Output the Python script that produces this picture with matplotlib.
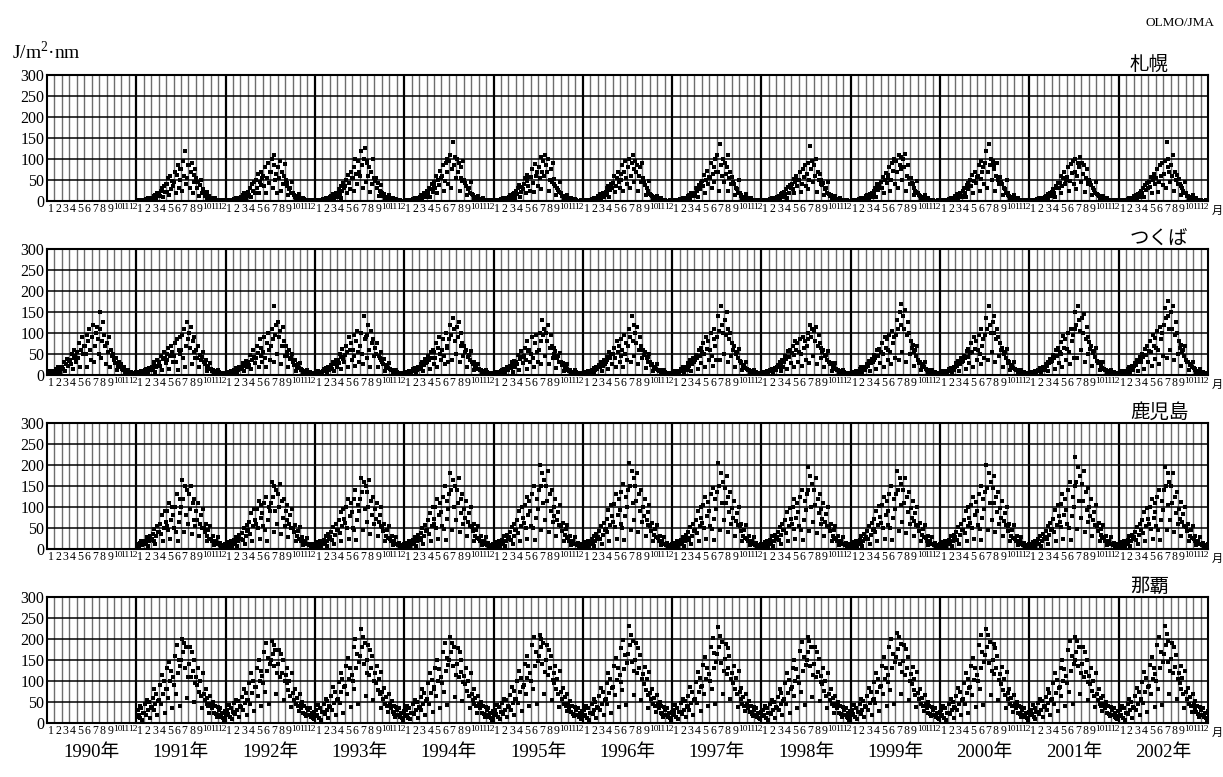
import numpy as np
import matplotlib
matplotlib.use("Agg")
import matplotlib.pyplot as plt

plt.rcParams["font.family"] = ["Liberation Serif", "Noto Sans CJK JP"]
plt.rcParams["mathtext.fontset"] = "custom"
plt.rcParams["mathtext.rm"] = "Liberation Serif"

# daily UV-B (J/m2/nm), 8 readings per month, one string per year,
# months separated by "|"
stations = ["札幌", "つくば", "鹿児島", "那覇"]
first_year = [1991, 1990, 1991, 1991]
months = [str(m) for m in range(1, 13)]
years = list(range(1990, 2003))

sapporo = [
    "1 2 1 3 1 2 2 1 | 3 2 5 4 6 3 4 7 | 8 5 12 10 15 6 18 11 | 18 12 25 30 9 35 22 40 | 40 22 55 15 60 28 48 35 | 45 70 20 62 85 30 50 75 | 75 25 95 60 120 40 55 85 | 85 30 70 90 18 62 45 75 | 55 30 45 12 38 50 20 28 | 20 12 15 6 22 9 11 8 | 6 4 5 2 7 3 3 2 | 2 1 2 1 1 2 1 1",
    "2 1 1 2 1 2 1 2 | 4 3 2 6 5 3 7 4 | 10 6 14 18 8 4 20 12 | 22 15 30 10 40 25 45 18 | 50 30 65 20 45 70 38 55 | 60 35 80 18 55 90 42 70 | 70 100 30 85 110 50 65 20 | 80 55 95 25 70 40 60 88 | 50 35 42 15 28 30 18 45 | 18 14 10 5 12 7 16 6 | 5 4 3 6 4 2 2 3 | 1 2 1 1 2 1 1 1",
    "1 2 1 1 2 2 1 3 | 4 3 5 6 2 4 8 5 | 9 12 7 16 4 13 18 10 | 20 28 14 35 8 24 42 30 | 35 50 18 62 44 28 70 55 | 55 80 25 100 65 40 95 70 | 60 120 85 30 100 125 45 90 | 95 60 80 22 70 40 100 55 | 48 55 30 42 12 25 22 38 | 18 12 16 5 10 8 6 14 | 5 4 3 6 3 2 2 4 | 2 1 1 2 1 1 1 1",
    "1 1 2 1 2 2 1 2 | 3 5 4 6 7 2 5 4 | 10 8 15 4 12 18 14 9 | 25 18 32 10 28 40 22 35 | 45 30 60 18 50 38 72 55 | 60 85 25 48 90 70 100 40 | 95 110 30 75 140 85 105 55 | 100 70 90 25 55 80 48 95 | 50 42 35 15 28 32 20 45 | 16 14 10 5 8 9 5 12 | 5 3 4 2 6 3 2 3 | 1 1 2 1 1 1 2 1",
    "1 2 1 2 1 2 3 1 | 4 3 6 5 2 7 6 4 | 9 14 11 5 17 12 20 8 | 24 16 30 38 10 22 34 28 | 40 55 20 62 48 35 58 25 | 58 75 42 22 88 60 70 35 | 80 55 105 28 70 95 60 110 | 85 68 100 25 50 75 45 90 | 52 40 35 14 30 26 22 45 | 18 13 12 5 9 8 6 15 | 5 4 3 6 3 2 2 4 | 2 1 1 1 1 2 1 1",
    "1 1 2 2 1 1 2 1 | 3 5 4 7 2 5 6 4 | 11 8 16 5 13 19 10 14 | 22 30 18 36 10 26 40 32 | 42 60 22 35 55 70 45 30 | 65 50 85 25 70 95 55 40 | 80 100 30 60 90 110 75 45 | 95 70 85 25 60 80 45 90 | 55 45 38 15 30 24 20 48 | 17 14 11 6 9 7 6 12 | 5 4 4 2 6 3 2 3 | 2 1 1 1 1 2 1 1",
    "1 2 2 1 1 2 1 2 | 4 5 3 7 2 6 8 5 | 12 9 15 5 18 11 16 13 | 20 32 24 10 38 28 44 35 | 48 35 62 20 50 72 40 58 | 55 90 30 65 80 45 100 70 | 110 70 25 135 85 60 100 45 | 90 65 80 25 110 55 70 40 | 58 45 40 15 32 28 20 50 | 20 15 12 6 10 8 6 16 | 6 4 4 2 7 3 2 3 | 2 1 1 1 2 1 1 1",
    "1 1 2 1 2 1 1 2 | 3 4 5 6 2 4 7 5 | 10 7 13 4 16 12 18 9 | 22 16 28 8 34 20 38 30 | 40 28 52 18 45 60 35 50 | 50 70 22 40 75 58 85 35 | 65 90 28 50 130 75 95 45 | 85 60 100 22 70 50 65 40 | 50 38 42 14 28 30 18 45 | 16 12 14 5 9 8 5 11 | 5 3 4 2 6 3 2 3 | 1 1 1 2 1 1 1 1",
    "1 2 1 2 1 2 1 2 | 4 3 6 5 2 7 6 5 | 11 14 9 5 17 13 19 10 | 25 18 32 10 40 26 36 30 | 45 32 58 20 50 66 42 55 | 62 80 25 50 90 72 100 40 | 95 70 30 110 85 105 75 50 | 100 80 112 25 60 85 55 40 | 55 44 40 15 32 25 22 48 | 18 14 12 6 10 7 6 15 | 5 4 3 6 3 2 2 3 | 2 1 1 1 1 2 1 1",
    "1 1 2 2 1 2 1 2 | 3 5 4 6 2 8 6 4 | 12 9 16 5 14 20 12 10 | 24 30 20 10 38 28 44 35 | 50 36 62 20 48 70 42 58 | 60 85 25 52 95 70 80 40 | 90 120 30 70 135 85 100 50 | 95 75 85 25 60 90 50 40 | 58 45 40 15 30 28 20 50 | 18 15 12 6 10 8 6 14 | 5 4 3 6 3 2 2 3 | 2 1 1 1 2 1 1 1",
    "1 2 1 1 2 2 1 2 | 4 4 6 5 2 7 8 5 | 10 13 9 5 16 14 20 11 | 22 28 18 10 36 30 42 32 | 44 60 20 36 55 68 40 50 | 58 80 25 48 88 66 95 40 | 70 100 28 60 90 80 105 45 | 90 65 85 22 55 75 48 40 | 50 42 38 14 30 26 20 46 | 17 14 12 6 9 8 6 13 | 5 4 3 6 3 2 2 3 | 2 1 1 1 1 2 1 1",
    "1 1 2 1 2 2 1 2 | 3 5 4 6 2 5 7 4 | 11 8 14 5 17 12 19 10 | 24 18 30 10 38 26 42 32 | 46 34 58 20 50 64 40 55 | 55 75 22 45 85 60 90 38 | 65 95 30 140 80 100 70 45 | 85 60 110 25 70 50 62 40 | 52 40 36 14 30 24 20 46 | 18 13 11 6 9 7 6 14 | 5 4 3 6 3 2 2 3 | 2 1 1 1 1 2 1 1",
]

tsukuba = [
    "5 8 4 9 6 10 7 5 | 10 14 8 18 12 20 6 15 | 20 15 30 10 25 38 22 33 | 35 25 50 15 40 60 45 30 | 55 40 75 20 60 90 50 70 | 70 50 95 20 80 110 60 35 | 90 120 30 70 100 115 85 50 | 110 150 40 80 125 95 70 25 | 75 55 90 20 60 45 50 35 | 35 28 40 12 22 30 18 25 | 15 12 18 6 10 9 8 13 | 6 5 7 3 4 5 4 6",
    "5 7 4 8 6 9 5 7 | 9 12 15 6 8 16 11 13 | 18 14 25 30 8 20 35 22 | 30 22 45 12 38 55 40 28 | 50 35 65 15 45 70 55 30 | 45 75 30 85 12 60 90 50 | 60 95 40 110 20 70 125 85 | 100 65 115 25 80 55 90 40 | 60 40 70 18 48 35 42 55 | 30 25 35 10 18 22 15 28 | 14 10 12 5 8 9 7 11 | 6 5 5 3 4 4 3 5",
    "4 7 5 8 6 9 5 6 | 10 13 9 16 6 12 18 14 | 20 15 28 10 22 34 26 18 | 32 24 48 15 36 60 42 28 | 40 70 52 18 85 45 65 30 | 55 90 40 20 75 100 60 35 | 70 110 85 30 165 95 120 50 | 125 90 105 25 70 115 80 45 | 70 55 45 18 60 38 40 50 | 30 24 36 10 20 25 16 28 | 14 11 13 5 9 8 7 12 | 6 5 6 3 4 4 3 5",
    "5 6 4 9 7 8 6 5 | 9 14 11 17 6 13 19 12 | 18 24 15 30 9 26 36 20 | 35 28 50 14 42 62 38 30 | 48 70 55 18 90 60 75 35 | 60 95 45 22 80 105 55 30 | 70 100 50 25 140 85 90 40 | 95 120 60 20 105 75 85 45 | 65 50 75 18 45 40 36 55 | 32 25 38 10 20 24 16 28 | 14 12 13 5 9 8 7 11 | 6 5 5 3 4 4 3 5",
    "5 7 5 8 6 9 6 7 | 10 14 12 17 6 13 20 15 | 18 26 20 32 10 24 38 28 | 30 45 36 15 55 40 60 25 | 55 40 75 20 65 90 50 35 | 60 85 45 25 100 70 65 30 | 85 120 95 35 135 110 80 50 | 115 90 125 30 70 100 75 45 | 70 55 60 20 42 48 35 58 | 32 26 30 12 20 22 15 27 | 14 11 12 5 9 8 7 12 | 6 5 5 3 4 4 3 5",
    "4 6 5 7 6 8 5 6 | 9 12 10 15 6 14 18 11 | 18 22 16 30 8 25 34 20 | 32 25 48 12 38 56 44 28 | 45 65 35 15 80 58 60 30 | 50 90 40 20 75 95 55 30 | 60 100 80 25 130 95 110 45 | 100 80 120 25 65 95 70 40 | 65 50 58 16 40 45 32 52 | 30 24 28 10 18 20 14 26 | 13 10 11 5 8 8 6 12 | 6 5 5 3 4 4 3 5",
    "5 7 4 8 6 9 5 6 | 9 13 11 16 6 12 18 14 | 18 24 20 30 9 22 35 26 | 30 42 36 14 55 40 50 25 | 50 65 40 18 80 55 70 30 | 45 85 60 20 95 50 75 35 | 70 110 90 30 140 80 120 45 | 100 75 115 25 60 90 70 40 | 60 48 55 16 40 42 32 50 | 30 24 26 10 18 20 14 27 | 13 10 11 5 8 8 6 12 | 6 5 5 3 4 4 3 5",
    "5 7 5 9 6 10 6 8 | 10 14 12 18 6 15 20 13 | 20 28 22 35 10 26 40 30 | 35 48 40 15 60 45 65 28 | 55 75 50 20 90 62 80 35 | 60 100 45 22 85 110 70 35 | 90 140 105 35 165 120 100 50 | 130 95 150 30 110 85 100 45 | 75 60 68 20 50 55 40 62 | 34 28 30 12 22 24 16 30 | 15 12 13 6 10 9 7 13 | 7 5 6 3 4 4 3 5",
    "5 6 4 8 7 9 5 6 | 9 12 10 15 6 13 17 11 | 18 24 18 30 9 24 36 20 | 32 45 38 14 58 42 60 28 | 52 70 48 18 80 60 75 32 | 55 85 50 22 90 65 80 35 | 70 100 85 28 120 90 110 45 | 105 80 115 25 70 95 75 40 | 65 55 60 18 45 48 35 58 | 32 26 28 10 20 22 15 28 | 14 11 12 5 9 8 7 12 | 6 5 5 3 4 4 3 5",
    "5 7 5 8 7 10 6 8 | 10 14 12 18 6 14 20 13 | 20 26 22 34 10 28 38 30 | 35 48 40 15 60 45 62 28 | 55 75 50 20 90 65 85 35 | 60 95 55 25 105 75 90 40 | 95 130 110 35 150 120 170 55 | 140 110 155 30 95 125 100 50 | 80 65 72 22 55 60 45 68 | 35 28 32 12 22 26 18 30 | 15 12 13 6 10 9 7 13 | 7 5 6 3 4 4 3 5",
    "5 7 5 9 6 10 6 8 | 10 14 12 17 6 14 20 13 | 20 28 22 34 10 26 40 30 | 34 46 40 15 58 44 62 28 | 52 75 55 20 90 62 80 35 | 60 95 50 25 110 70 85 40 | 95 135 110 35 165 120 100 55 | 125 100 140 30 85 110 90 45 | 75 60 65 20 50 55 40 62 | 34 28 30 12 22 24 16 30 | 15 12 13 6 10 9 7 13 | 7 5 6 3 4 4 3 5",
    "5 7 5 8 7 9 6 8 | 10 13 11 17 6 14 19 12 | 20 26 22 32 10 28 38 30 | 34 48 40 15 60 45 64 28 | 55 78 50 20 92 65 85 35 | 62 100 55 25 110 80 95 40 | 110 150 120 40 165 130 105 60 | 135 100 145 30 85 115 90 50 | 78 62 70 22 52 58 42 65 | 34 28 30 12 22 25 16 30 | 15 12 13 6 10 9 7 13 | 7 5 6 3 4 4 3 5",
    "5 7 5 9 7 10 6 8 | 10 14 12 18 6 15 21 13 | 22 28 24 36 10 30 42 32 | 38 50 44 15 62 48 68 30 | 58 80 55 22 95 70 88 38 | 65 105 60 25 115 85 100 45 | 120 160 135 40 175 140 110 60 | 150 110 165 35 95 125 100 50 | 80 65 72 22 55 60 45 68 | 36 30 32 12 24 26 18 30 | 16 13 14 6 10 10 8 14 | 7 6 6 3 5 4 4 5",
]

kagoshima = [
    "8 12 6 15 10 18 9 14 | 14 20 12 28 8 18 32 22 | 25 35 20 48 12 30 55 40 | 40 60 35 80 20 50 90 65 | 55 90 45 110 25 70 100 80 | 50 100 40 130 20 65 120 85 | 100 165 120 40 150 80 140 60 | 130 95 150 35 110 70 120 55 | 90 70 110 30 60 80 50 95 | 50 40 60 18 30 45 25 55 | 25 20 30 10 15 18 12 28 | 12 9 14 5 7 10 6 13",
    "9 12 7 16 10 18 8 14 | 15 22 12 28 8 20 34 24 | 25 38 22 50 12 30 58 42 | 45 65 35 85 20 55 95 70 | 60 95 50 115 25 75 105 85 | 55 110 45 125 20 70 100 90 | 110 160 125 40 150 90 140 60 | 130 100 155 35 115 75 120 55 | 90 70 105 28 60 80 50 95 | 50 40 58 18 30 44 25 52 | 24 18 28 10 15 18 12 26 | 12 9 13 5 7 10 6 12",
    "9 13 7 16 11 19 8 15 | 15 22 13 30 8 20 35 25 | 28 40 22 52 12 34 60 45 | 45 70 38 88 20 55 95 72 | 62 100 50 120 25 78 110 88 | 50 120 45 140 22 70 105 90 | 120 170 135 45 160 95 150 65 | 135 100 165 35 115 80 125 60 | 95 72 110 30 65 82 55 100 | 52 42 60 18 32 45 26 55 | 25 20 30 10 16 19 12 28 | 12 9 14 5 7 10 6 13",
    "9 12 7 15 10 18 8 14 | 15 22 12 28 8 20 34 24 | 26 38 22 50 12 32 58 42 | 45 68 36 85 20 55 100 72 | 60 100 50 120 25 80 110 88 | 55 125 48 150 22 72 115 95 | 130 180 140 45 165 100 150 70 | 140 110 170 40 120 85 130 60 | 95 75 115 30 65 85 55 100 | 52 42 60 18 32 46 26 55 | 25 20 30 10 16 18 12 28 | 12 9 14 5 7 10 6 13",
    "9 12 7 16 11 18 8 14 | 15 22 13 30 8 20 34 25 | 28 40 22 52 12 32 60 45 | 45 70 38 90 20 55 100 75 | 62 105 50 125 25 80 115 90 | 55 130 50 150 22 75 120 95 | 140 200 150 45 180 110 165 70 | 150 115 185 40 130 90 140 65 | 100 78 120 30 68 88 58 105 | 55 44 62 18 34 48 28 58 | 26 20 30 10 16 19 12 28 | 12 9 14 5 7 10 6 13",
    "9 13 7 16 11 19 8 15 | 15 23 13 30 8 20 35 25 | 28 42 24 55 12 34 62 46 | 48 72 40 92 20 58 105 78 | 65 108 52 130 25 82 118 92 | 60 135 50 155 22 78 125 100 | 140 205 150 45 185 110 170 70 | 150 115 180 40 130 90 140 65 | 100 78 118 30 68 88 58 105 | 55 44 62 18 34 48 28 58 | 26 20 30 10 16 19 12 28 | 12 9 14 5 7 10 6 13",
    "9 12 7 15 10 18 8 14 | 15 22 12 28 8 20 34 24 | 26 40 22 52 12 32 60 44 | 45 70 38 90 20 55 100 75 | 62 105 50 125 25 78 112 90 | 55 130 48 145 22 72 118 95 | 135 205 150 45 180 110 160 70 | 145 110 175 40 125 88 135 60 | 98 75 115 30 66 85 56 100 | 54 42 60 18 32 46 26 56 | 25 20 30 10 16 18 12 28 | 12 9 14 5 7 10 6 13",
    "9 12 7 16 10 18 8 14 | 15 22 12 30 8 20 34 25 | 28 40 22 52 12 34 60 45 | 45 70 38 88 20 55 98 72 | 60 100 48 120 25 75 110 88 | 55 125 45 140 22 70 115 92 | 130 195 140 42 175 100 155 65 | 140 105 170 38 120 85 130 60 | 95 72 110 30 64 84 55 100 | 52 42 60 18 32 46 26 55 | 25 20 30 10 16 18 12 28 | 12 9 14 5 7 10 6 13",
    "9 13 7 16 11 19 8 15 | 15 22 13 30 8 20 35 25 | 28 42 24 54 12 34 62 46 | 48 72 40 90 20 58 102 76 | 62 105 50 125 25 80 115 90 | 58 130 50 150 22 75 120 95 | 130 185 140 42 170 105 155 65 | 140 110 170 38 125 88 135 60 | 98 75 115 30 66 86 56 100 | 54 44 62 18 34 48 28 56 | 26 20 30 10 16 19 12 28 | 12 9 14 5 7 10 6 13",
    "9 12 7 16 10 18 8 14 | 15 22 12 30 8 20 34 25 | 28 40 22 52 12 34 60 45 | 45 70 38 90 20 55 100 75 | 62 105 50 125 25 80 112 90 | 58 130 48 150 22 75 120 95 | 135 200 145 45 180 110 160 70 | 145 110 175 40 125 88 135 60 | 98 75 115 30 66 86 56 100 | 54 42 60 18 32 46 26 56 | 25 20 30 10 16 18 12 28 | 12 9 14 5 7 10 6 13",
    "9 13 7 16 11 19 8 15 | 15 23 13 30 8 20 35 25 | 28 42 24 55 12 34 62 46 | 48 72 40 92 20 58 105 78 | 65 108 52 130 25 82 118 92 | 60 140 50 160 22 78 125 100 | 150 220 160 48 195 115 175 75 | 155 115 185 40 135 92 145 65 | 100 78 118 30 68 88 58 105 | 55 44 62 18 34 48 28 58 | 26 20 30 10 16 19 12 28 | 12 9 14 5 7 10 6 13",
    "9 12 7 16 10 18 8 14 | 15 22 12 30 8 20 34 25 | 28 40 22 52 12 34 60 45 | 45 70 38 88 20 55 98 72 | 60 100 48 120 25 75 110 88 | 55 125 45 140 22 70 115 92 | 140 195 150 45 180 105 160 70 | 150 110 180 40 125 85 135 60 | 95 72 112 30 64 84 55 100 | 52 42 60 18 32 46 26 55 | 25 20 30 10 16 18 12 28 | 12 9 14 5 7 10 6 13",
]

naha = [
    "15 30 20 40 12 35 8 25 | 25 45 20 55 30 50 12 38 | 35 60 30 80 45 70 18 52 | 55 90 45 115 70 100 25 80 | 80 130 60 145 100 125 35 110 | 90 160 70 185 120 150 40 135 | 150 200 170 190 130 180 60 110 | 140 180 110 170 125 150 50 95 | 110 90 130 75 100 65 35 120 | 70 55 80 45 60 40 25 65 | 45 35 50 25 40 22 15 38 | 30 20 35 15 25 12 8 28",
    "18 32 22 42 14 36 10 26 | 25 48 22 55 32 52 14 40 | 38 62 30 82 48 72 20 55 | 55 95 45 118 72 100 28 85 | 85 130 65 150 100 125 40 112 | 95 170 75 190 125 155 45 140 | 150 195 165 185 135 175 70 120 | 140 175 110 165 120 150 55 100 | 115 95 130 78 100 65 38 118 | 72 55 82 45 60 40 28 68 | 45 35 50 25 40 22 16 36 | 30 20 35 15 25 12 9 26",
    "16 30 20 42 12 36 8 26 | 26 46 22 58 32 52 12 40 | 38 64 30 85 48 74 18 55 | 58 98 48 120 75 105 25 85 | 88 135 68 155 105 130 38 115 | 100 180 80 200 130 165 45 145 | 160 225 180 205 140 190 65 120 | 150 185 115 175 130 160 55 100 | 118 95 135 78 105 68 36 122 | 74 58 84 46 62 40 26 68 | 46 36 52 26 40 22 15 38 | 30 20 35 15 25 12 8 28",
    "16 30 20 40 12 35 9 25 | 25 45 22 55 30 50 13 38 | 36 62 30 82 46 72 19 52 | 56 95 46 118 72 102 26 82 | 85 132 65 150 100 128 36 110 | 95 170 75 190 125 155 42 138 | 150 205 168 190 135 180 62 115 | 140 178 110 168 122 150 52 98 | 112 92 130 76 100 65 35 120 | 70 55 80 45 60 40 25 65 | 45 35 50 25 40 22 15 38 | 30 20 35 15 25 12 8 28",
    "18 32 22 44 14 38 10 27 | 26 48 22 58 32 54 14 40 | 38 66 30 86 48 76 20 56 | 58 100 48 125 75 108 28 86 | 90 140 70 160 108 135 40 118 | 100 185 80 205 135 170 45 148 | 160 210 180 200 140 190 68 122 | 150 185 115 175 130 160 55 102 | 118 96 135 80 105 68 38 124 | 74 58 84 46 62 40 28 70 | 46 36 52 26 40 22 16 38 | 30 20 35 15 25 12 9 28",
    "16 30 20 40 12 35 8 25 | 25 46 22 56 30 50 12 38 | 36 64 30 84 46 74 18 54 | 56 96 46 120 72 104 25 84 | 86 135 66 155 102 130 38 114 | 98 178 78 198 128 162 44 144 | 165 230 185 210 145 195 66 125 | 150 190 118 178 132 162 54 104 | 116 94 134 78 104 66 36 122 | 72 56 82 45 60 40 26 66 | 45 35 50 25 40 22 15 37 | 30 20 35 15 25 12 8 27",
    "18 32 22 42 14 36 10 26 | 26 48 22 58 32 52 14 40 | 38 64 30 85 48 74 20 55 | 58 98 48 122 74 106 28 86 | 88 138 68 158 104 132 40 116 | 100 182 80 202 132 166 46 146 | 165 228 182 208 142 192 70 125 | 152 188 116 178 132 160 56 104 | 118 96 136 80 106 68 38 124 | 74 58 84 46 62 40 28 68 | 46 36 52 26 40 22 16 38 | 30 20 35 15 25 12 9 27",
    "16 30 20 40 12 35 8 25 | 25 45 22 55 30 50 12 38 | 36 62 30 82 46 72 18 52 | 56 95 46 118 72 102 25 82 | 85 132 65 150 100 128 36 110 | 95 172 75 192 125 158 42 138 | 150 205 168 195 135 182 62 115 | 140 180 110 170 122 152 52 98 | 112 92 130 76 100 65 35 120 | 70 55 80 45 60 40 25 65 | 45 35 50 25 40 22 15 38 | 30 20 35 15 25 12 8 28",
    "18 32 22 42 14 36 10 26 | 26 46 22 56 32 52 14 40 | 38 64 30 84 48 74 20 55 | 58 98 48 120 74 104 28 85 | 88 136 68 156 104 130 40 115 | 98 180 78 200 130 164 45 145 | 158 215 176 205 140 188 68 122 | 148 185 114 176 130 158 55 100 | 116 94 134 78 104 66 38 122 | 72 56 82 45 60 40 28 66 | 45 35 50 25 40 22 16 37 | 30 20 35 15 25 12 9 27",
    "16 30 20 40 12 35 8 25 | 25 46 22 56 30 50 12 38 | 36 64 30 84 46 74 18 54 | 56 96 46 120 72 104 25 84 | 86 135 66 155 102 130 38 114 | 100 185 80 210 132 168 44 146 | 162 225 180 210 142 192 66 124 | 150 188 116 178 132 160 54 102 | 116 94 134 78 104 66 36 122 | 72 56 82 45 60 40 26 66 | 45 35 50 25 40 22 15 37 | 30 20 35 15 25 12 8 27",
    "18 32 22 42 14 36 10 26 | 26 48 22 58 32 52 14 40 | 38 62 30 82 48 72 20 54 | 56 95 46 118 72 102 28 84 | 85 132 65 150 100 128 40 112 | 95 175 75 195 125 160 45 140 | 150 205 170 195 135 180 68 118 | 140 180 110 170 122 150 55 98 | 112 92 130 76 100 65 38 120 | 70 55 80 45 60 40 28 65 | 45 35 50 25 40 22 16 38 | 30 20 35 15 25 12 9 28",
    "16 30 20 40 12 35 8 25 | 25 46 22 56 30 50 12 38 | 36 64 30 84 46 74 18 54 | 58 98 48 122 74 106 26 86 | 88 138 68 158 104 132 38 116 | 100 185 80 205 132 168 44 146 | 165 230 185 212 145 195 68 125 | 152 190 118 180 134 162 56 104 | 118 96 136 80 106 68 36 124 | 74 58 84 46 62 40 26 68 | 46 36 52 26 40 22 15 38 | 30 20 35 15 25 12 8 28",
]

series = [sapporo, tsukuba, kagoshima, naha]

W, H = 1223, 777
fig = plt.figure(figsize=(W / 100, H / 100), dpi=100)
tops = [75, 249, 423, 597]
ph = 126
left, pw = 47, 1161

centers = [1990 + (j + 0.5) / 12 for j in range(12 * len(years))]

for i, (name, y0, data) in enumerate(zip(stations, first_year, series)):
    ax = fig.add_axes([left / W, 1 - (tops[i] + ph) / H, pw / W, ph / H])
    ax.set_xlim(1990, 2003)
    ax.set_ylim(0, 300)

    for j in range(1, 12 * len(years)):
        if j % 12 == 0:
            ax.axvline(1990 + j / 12, color="black", lw=1.6, zorder=1)
        else:
            ax.axvline(1990 + j / 12, color="#6e6e6e", lw=1.0, zorder=1)
    for yv in range(50, 300, 50):
        ax.axhline(yv, color="black", lw=1.1, zorder=1)

    xs, ys = [], []
    for k, row in enumerate(data):
        groups = row.split("|")
        for m, g in enumerate(groups):
            vals = [float(v) for v in g.split()]
            n = len(vals)
            for d, v in enumerate(vals):
                xs.append(y0 + k + (m + (d + 0.5) / n) / 12)
                ys.append(v)
    ax.scatter(xs, ys, s=6, marker="s", color="black", linewidths=0, zorder=3)

    ax.set_yticks(range(0, 301, 50))
    ax.set_yticklabels([str(v) for v in range(0, 301, 50)], fontsize=11.5)
    ax.set_xticks(centers)
    ax.set_xticklabels(months * len(years))
    for lab, txt in zip(ax.get_xticklabels(), months * len(years)):
        lab.set_fontsize(8.5 if len(txt) == 1 else 6.8)
    ax.tick_params(length=0, pad=1.5)
    ax.tick_params(axis="y", pad=2)
    for sp in ax.spines.values():
        sp.set_linewidth(1.5)

    fig.text(1130 / W, 1 - (tops[i] - 11) / H, name, fontsize=14,
             family="Noto Sans CJK JP", va="center", ha="left")
    fig.text(1212 / W, 1 - (tops[i] + ph + 10) / H, "月", fontsize=8,
             family="Noto Sans CJK JP", va="center", ha="left")

for y in years:
    fig.text((left + (y - 1990 + 0.5) * pw / 13) / W, 1 - 752 / H, f"{y}年",
             fontsize=13.5, ha="center", va="center")

fig.text(12 / W, 1 - 52 / H, "J/m$^2$·nm", fontsize=14, va="center", ha="left")
fig.text(1215 / W, 1 - 23 / H, "OLMO/JMA", fontsize=9.5, va="center", ha="right")

fig.savefig("out.png", dpi=100)
